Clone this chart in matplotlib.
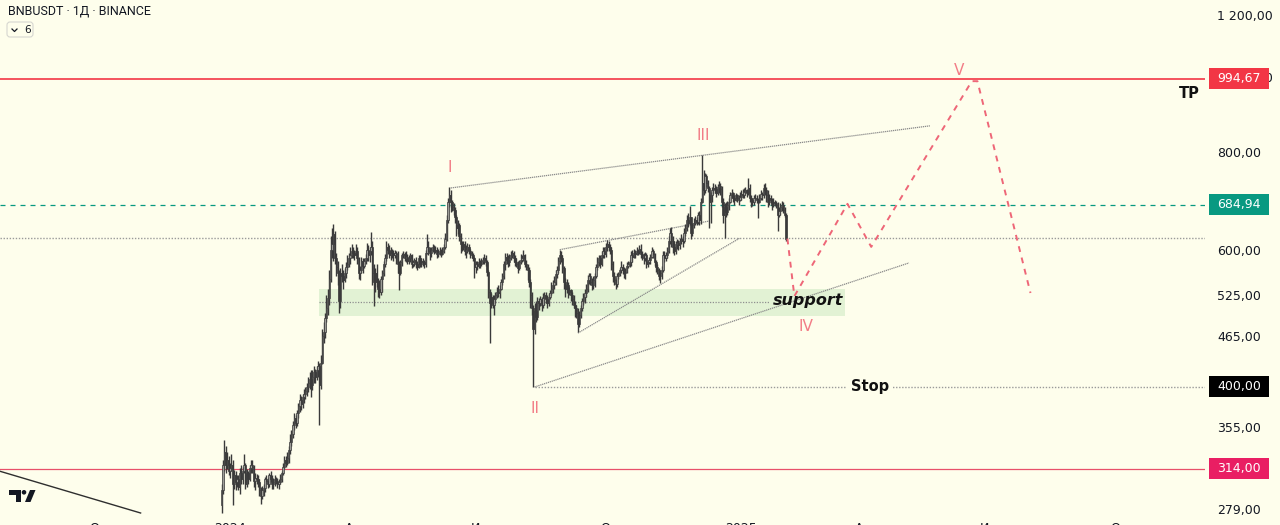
import numpy as np
import pandas as pd
import matplotlib
matplotlib.use("Agg")
import matplotlib.pyplot as plt
from matplotlib.patches import Rectangle, Polygon, FancyBboxPatch, Circle
from matplotlib.lines import Line2D
from matplotlib.ticker import NullLocator
from matplotlib.transforms import IdentityTransform

plt.rcParams['font.family'] = ['DejaVu Sans']

W, H = 1280, 525
BG = '#FEFEEC'
INK = '#131722'

# === Daily candles BNBUSDT (open = previous close) ===
start = '2023-12-26'
first_open = 282
closes = [
    295, 318, 330, 318, 322, 312,  # Dec 2023
    315, 318, 300, 308, 302, 305, 298, 310, 305, 312, 318, 300, 310, 305, 315, 318, 316, 303, 306, 305, 302, 295, 290, 295, 297, 305, 303, 300, 308, 305, 300,
    302, 305, 303, 300, 302, 305, 310, 316, 322, 320, 324, 332, 340, 348, 358, 365, 360, 370, 378, 385, 380, 388, 392, 395, 400, 405, 410, 402, 412,
    418, 412, 420, 425, 402, 430, 465, 470, 490, 505, 520, 550, 600, 610, 628, 585, 570, 560, 515, 560, 555, 548, 560, 570, 575, 585, 590, 598, 595, 590, 598,
    585, 560, 565, 580, 572, 580, 585, 600, 590, 598, 605, 560, 545, 560, 545, 535, 530, 550, 560, 575, 585, 605, 600, 590, 598, 595, 590, 594, 592, 575,
    560, 578, 590, 592, 585, 588, 580, 585, 590, 575, 578, 582, 575, 570, 585, 575, 580, 578, 575, 595, 605, 598, 595, 600, 605, 598, 600, 592, 595, 598, 593,
    598, 605, 620, 655, 690, 705, 690, 680, 675, 660, 640, 645, 625, 610, 605, 610, 598, 600, 605, 598, 595, 590, 585, 570, 575, 572, 578, 575, 580, 582,
    585, 578, 562, 530, 512, 522, 510, 518, 525, 530, 528, 535, 545, 555, 575, 588, 582, 578, 585, 590, 594, 585, 578, 575, 568, 578, 582, 585, 590, 575, 570,
    565, 545, 525, 505, 475, 500, 492, 515, 512, 518, 510, 520, 525, 518, 512, 522, 528, 535, 540, 545, 558, 565, 580, 590, 585, 568, 545, 535, 540, 530, 532,
    525, 518, 510, 505, 498, 482, 495, 505, 515, 522, 528, 535, 548, 555, 545, 540, 548, 555, 570, 578, 585, 575, 590, 598, 592, 605, 610, 605, 600, 575,
    555, 548, 542, 555, 558, 565, 570, 565, 560, 562, 572, 575, 578, 590, 588, 595, 592, 598, 596, 602, 592, 590, 585, 590, 575, 578, 582, 588, 598, 592, 578,
    570, 565, 555, 560, 565, 590, 585, 590, 598, 615, 630, 615, 605, 598, 610, 612, 608, 615, 620, 615, 630, 640, 655, 650, 660, 630, 645, 650, 655, 652,
    665, 655, 690, 730, 715, 745, 730, 720, 690, 705, 715, 720, 718, 710, 722, 725, 718, 690, 665, 680, 670, 685, 690, 705, 710, 698, 695, 705, 700, 695, 702,
    708, 705, 712, 715, 710, 720, 700, 695, 690, 698, 700, 695, 690, 700, 708, 705, 720, 715, 705, 690, 700, 695, 685, 690, 688, 685, 665, 672, 680, 685, 675,
    665, 620,
]
highs = [
    300, 322, 342, 336, 330, 326,
    320, 328, 322, 313, 312, 308, 308, 315, 318, 316, 328, 320, 314, 312, 318, 322, 322, 318, 310, 309, 308, 305, 298, 299, 300, 307, 308, 306, 310, 312, 308,
    306, 308, 307, 306, 305, 309, 312, 320, 326, 326, 330, 336, 348, 352, 362, 370, 368, 374, 382, 392, 390, 392, 398, 400, 405, 412, 418, 420, 420,
    425, 422, 426, 432, 430, 440, 475, 485, 498, 525, 535, 565, 625, 640, 648, 635, 595, 580, 565, 568, 575, 565, 568, 578, 590, 595, 605, 610, 605, 600, 610,
    605, 588, 572, 588, 585, 585, 592, 612, 608, 605, 632, 615, 575, 568, 575, 552, 548, 555, 565, 580, 592, 615, 612, 608, 605, 602, 600, 600, 598, 598,
    580, 582, 595, 598, 596, 598, 592, 590, 595, 592, 582, 586, 588, 580, 590, 590, 585, 585, 582, 600, 628, 615, 605, 605, 610, 608, 606, 605, 602, 605, 602,
    604, 610, 630, 665, 700, 722, 715, 695, 688, 680, 665, 655, 650, 630, 615, 615, 615, 608, 612, 610, 602, 598, 595, 588, 580, 580, 585, 582, 585, 588,
    592, 590, 582, 565, 535, 528, 525, 525, 530, 538, 540, 540, 550, 560, 580, 595, 595, 590, 592, 598, 600, 598, 590, 585, 580, 582, 592, 590, 600, 592, 582,
    575, 570, 550, 530, 510, 512, 515, 522, 520, 524, 522, 528, 530, 530, 525, 528, 532, 545, 548, 555, 565, 572, 588, 600, 598, 590, 572, 552, 550, 545, 538,
    535, 530, 525, 515, 510, 505, 500, 510, 520, 528, 535, 542, 556, 560, 560, 552, 555, 560, 575, 588, 590, 590, 598, 605, 605, 612, 618, 615, 610, 605,
    580, 562, 552, 560, 562, 568, 580, 575, 570, 568, 578, 580, 582, 598, 600, 602, 600, 605, 602, 608, 610, 598, 595, 596, 595, 582, 588, 592, 605, 602, 595,
    582, 575, 568, 565, 572, 598, 598, 596, 604, 625, 640, 642, 625, 615, 615, 620, 618, 622, 628, 625, 640, 648, 665, 668, 682, 660, 650, 658, 662, 660,
    670, 672, 700, 793, 760, 752, 750, 738, 725, 712, 722, 730, 728, 725, 728, 735, 730, 725, 698, 688, 690, 692, 698, 712, 718, 712, 705, 710, 708, 705, 712,
    715, 718, 720, 722, 718, 742, 728, 705, 700, 705, 708, 705, 698, 708, 715, 712, 728, 730, 722, 715, 708, 705, 700, 698, 695, 692, 690, 680, 688, 692, 690,
    680, 668,
]
lows = [
    276, 292, 312, 310, 314, 308,
    306, 312, 282, 296, 295, 298, 295, 292, 300, 300, 310, 296, 298, 300, 303, 310, 310, 298, 295, 300, 298, 290, 283, 287, 290, 293, 300, 297, 298, 302, 296,
    296, 299, 300, 297, 296, 300, 302, 308, 314, 316, 318, 320, 328, 336, 344, 352, 354, 356, 365, 372, 374, 376, 382, 386, 390, 394, 398, 388, 396,
    405, 405, 408, 412, 358, 398, 428, 455, 462, 485, 495, 510, 545, 585, 580, 575, 555, 540, 498, 505, 545, 535, 545, 552, 565, 570, 575, 585, 585, 582, 590,
    575, 550, 548, 560, 560, 568, 575, 580, 580, 578, 590, 540, 508, 530, 538, 522, 520, 525, 530, 555, 570, 580, 592, 585, 582, 585, 580, 585, 575, 560,
    532, 556, 572, 585, 580, 578, 575, 575, 578, 568, 570, 572, 568, 565, 568, 570, 570, 572, 568, 570, 592, 590, 582, 588, 596, 592, 594, 585, 588, 590, 588,
    590, 595, 602, 615, 650, 680, 670, 672, 665, 650, 625, 628, 615, 595, 598, 600, 590, 585, 595, 592, 585, 585, 580, 552, 560, 565, 568, 568, 572, 575,
    575, 572, 555, 520, 455, 505, 505, 495, 512, 520, 522, 520, 532, 540, 550, 565, 575, 570, 572, 582, 585, 578, 572, 570, 560, 565, 575, 578, 580, 570, 565,
    548, 538, 505, 495, 400, 468, 485, 488, 502, 508, 500, 505, 510, 512, 505, 508, 518, 525, 528, 535, 540, 552, 560, 575, 578, 560, 535, 522, 528, 520, 525,
    515, 510, 505, 492, 490, 470, 478, 490, 500, 510, 512, 522, 530, 542, 540, 532, 535, 538, 552, 565, 572, 568, 572, 585, 585, 588, 598, 598, 592, 565,
    545, 540, 534, 538, 550, 555, 560, 558, 552, 550, 560, 568, 570, 572, 578, 585, 585, 590, 590, 592, 585, 582, 575, 580, 568, 570, 575, 575, 585, 585, 572,
    562, 558, 548, 544, 550, 562, 578, 580, 585, 595, 610, 605, 595, 590, 592, 602, 600, 602, 610, 605, 612, 625, 635, 642, 645, 620, 625, 640, 645, 645,
    648, 645, 648, 688, 705, 710, 722, 712, 640, 650, 690, 708, 710, 702, 705, 710, 705, 680, 650, 622, 660, 665, 675, 688, 698, 690, 685, 692, 690, 685, 692,
    695, 698, 700, 705, 702, 705, 690, 680, 682, 685, 692, 688, 658, 688, 695, 695, 700, 705, 690, 680, 685, 688, 675, 680, 682, 678, 635, 660, 665, 672, 668,
    660, 615,
]

# === Levels and drawings ===
tp_level = 994.67
last_level = 684.94
stop_level = 400.00
low_level = 314.00
mid_level = 621
support_low, support_high, support_mid = 494, 534, 513.5
support_dates = ['2024-03-05', '2025-03-16', '2025-01-21']

wave_labels = ['I', 'II', 'III', 'IV', 'V']
wave_dates = ['2024-06-06', '2024-08-06', '2024-12-05', '2025-02-16', '2025-06-06']
wave_prices = [764, 375, 840, 478, 1020]

path_dates = ['2025-02-03', '2025-02-08', '2025-03-18', '2025-04-04', '2025-06-15', '2025-06-19', '2025-07-27']
path_prices = [620, 523, 687, 605, 987, 987, 528]

trend_lines = [  # (date1, price1, date2, price2)
    ('2024-06-07', 720, '2025-05-16', 865),
    ('2024-08-06', 400, '2025-05-01', 577),
    ('2024-08-24', 600, '2024-12-09', 653),
    ('2024-09-06', 469, '2024-12-31', 621),
]
old_line = ('2023-07-20', 312, '2023-10-29', 275.7)

price_ticks = [1200, 1000, 800, 600, 525, 465, 355, 279]
price_tick_labels = ['1 200,00', '1 000,00', '800,00', '600,00', '525,00', '465,00', '355,00', '279,00']
time_ticks = ['2023-10-01', '2024-01-01', '2024-04-01', '2024-07-01', '2024-10-01',
              '2025-01-01', '2025-04-01', '2025-07-01', '2025-10-01']
time_labels = ['Окт', '2024', 'Апр', 'Июл', 'Окт', '2025', 'Апр', 'Июл', 'Окт']

base = pd.Timestamp('2024-01-01')


def day(d):
    return (pd.Timestamp(d) - base).days


n = len(closes)
assert len(highs) == n and len(lows) == n
x = np.array([(t - base).days for t in pd.date_range(start, periods=n)])
c = np.array(closes, float)
o = np.concatenate([[first_open], c[:-1]])
hi = np.maximum(np.array(highs, float), np.maximum(o, c))
lo = np.minimum(np.array(lows, float), np.minimum(o, c))

fig = plt.figure(figsize=(W / 100, H / 100), dpi=100, facecolor=BG)
ax = fig.add_axes([0, 10 / H, 1205 / W, 515 / H])
ax.set_facecolor(BG)
ax.set_yscale('log')
px_per_day = 1.397
ax.set_xlim(-230 / px_per_day, (1205 - 230) / px_per_day)
ax.set_ylim(1200 * np.exp(-500 / 338.6), 1200 * np.exp(15 / 338.6))
for s in ax.spines.values():
    s.set_visible(False)

# support zone
ax.add_patch(Rectangle((day(support_dates[0]), support_low),
                       day(support_dates[1]) - day(support_dates[0]),
                       support_high - support_low, facecolor='#DDF0D0', edgecolor='none', alpha=0.85, zorder=1))
ax.plot([day(support_dates[0]), day(support_dates[2])], [support_mid, support_mid],
        color='#8F8F8F', lw=0.9, ls=(0, (1, 1.2)), zorder=1.5)

# horizontal levels
xl = ax.get_xlim()
ax.axhline(tp_level, color='#F23645', lw=1.2, zorder=2)
ax.axhline(low_level, color='#E8506A', lw=0.9, zorder=2)
ax.axhline(last_level, color='#089981', lw=0.9, ls=(0, (4, 4)), zorder=2)
ax.axhline(mid_level, color='#9A9A9A', lw=1.0, ls=(0, (1, 1.2)), zorder=1.5)
ax.plot([day(wave_dates[1]), xl[1]], [stop_level, stop_level],
        color='#9A9A9A', lw=1.0, ls=(0, (1, 1.2)), zorder=1.5)

# trend lines
for d1, p1, d2, p2 in trend_lines:
    ax.plot([day(d1), day(d2)], [p1, p2], color='#8A8A8A', lw=0.9, ls=(0, (1, 0.6)), zorder=2)
ax.plot([day(old_line[0]), day(old_line[2])], [old_line[1], old_line[3]], color='#2E2E2E', lw=1.0, zorder=2)

# candles
up = c >= o
ax.vlines(x, lo, hi, color='#3A3A3A', lw=1.0, zorder=3)
ax.bar(x[up], (c - o)[up], bottom=o[up], width=0.95, color='#9C9C96', edgecolor='#3A3A3A', lw=0.5, zorder=4)
ax.bar(x[~up], (o - c)[~up], bottom=c[~up], width=0.95, color='#3A3A3A', edgecolor='#3A3A3A', lw=0.5, zorder=4)

# projection path
ax.plot([day(d) for d in path_dates], path_prices, color='#EE6677', lw=1.4, ls=(0, (3, 3)), zorder=5)

# wave labels
for lab, d, p in zip(wave_labels, wave_dates, wave_prices):
    ax.text(day(d), p, lab, color='#F27C86', fontsize=11, ha='center', va='center', zorder=6)

ax.text(day('2025-02-18'), 516, 'support', fontsize=11.5, fontweight='bold', fontstyle='italic',
        color='#111111', ha='center', va='center', zorder=6)
ax.text(day('2025-04-03'), stop_level, 'Stop', fontsize=10.5, fontweight='bold', color='#111111',
        ha='center', va='center', zorder=6,
        bbox=dict(boxstyle='square,pad=0.25', facecolor=BG, edgecolor='none'))
ax.text(day('2025-11-18'), 953, 'TP', fontsize=10.5, fontweight='bold', color='#111111',
        ha='center', va='center', zorder=6)

# axes ticks
ax.yaxis.tick_right()
ax.yaxis.set_minor_locator(NullLocator())
ax.set_yticks(price_ticks)
ax.set_yticklabels(price_tick_labels)
ax.set_xticks([day(d) for d in time_ticks])
ax.set_xticklabels(time_labels)
ax.tick_params(axis='y', length=0, pad=8.6, labelsize=9, labelcolor=INK)
ax.tick_params(axis='x', length=0, pad=4.8, labelsize=9, labelcolor=INK)

# price boxes on the scale
ident = IdentityTransform()
fig.canvas.draw()
for level, txt, col in [(tp_level, '994,67', '#F23645'), (last_level, '684,94', '#089981'),
                        (stop_level, '400,00', '#000000'), (low_level, '314,00', '#E91E63')]:
    yd = ax.transData.transform((0, level))[1]
    fig.add_artist(Rectangle((1209, yd - 10.5), 60, 21, transform=ident, facecolor=col,
                             edgecolor='none', zorder=5))
    fig.add_artist(plt.Text(1239, yd, txt, transform=ident, color='white', fontsize=9,
                            ha='center', va='center', zorder=6))

# header
fig.text(8 / W, 1 - 11 / H, 'BNBUSDT · 1Д · BINANCE', fontsize=9, color=INK, va='center',
         family=['Roboto', 'DejaVu Sans'])
fig.add_artist(FancyBboxPatch((7, H - 37), 26, 15, boxstyle='round,pad=0,rounding_size=3',
                              transform=ident, facecolor=BG, edgecolor='#D6D6D0', lw=0.8))
fig.add_artist(Line2D([12, 14.5, 17], [H - 29, H - 31.5, H - 29], transform=ident, color=INK, lw=0.9))
fig.text(24 / W, 1 - 30 / H, '6', fontsize=7.5, color=INK, va='center')

# TradingView logo
logo = '#131722'
fig.add_artist(Polygon([(9, H - 490), (21, H - 490), (21, H - 502), (16, H - 502), (16, H - 494.5), (9, H - 494.5)],
                       closed=True, transform=ident, facecolor=logo, edgecolor='none'))
fig.add_artist(Circle((24, H - 492.3), 2.3, transform=ident, facecolor=logo, edgecolor='none'))
fig.add_artist(Polygon([(30, H - 490), (35.5, H - 490), (30.5, H - 502), (25, H - 502)],
                       closed=True, transform=ident, facecolor=logo, edgecolor='none'))

fig.savefig('out.png', dpi=100, facecolor=BG)
